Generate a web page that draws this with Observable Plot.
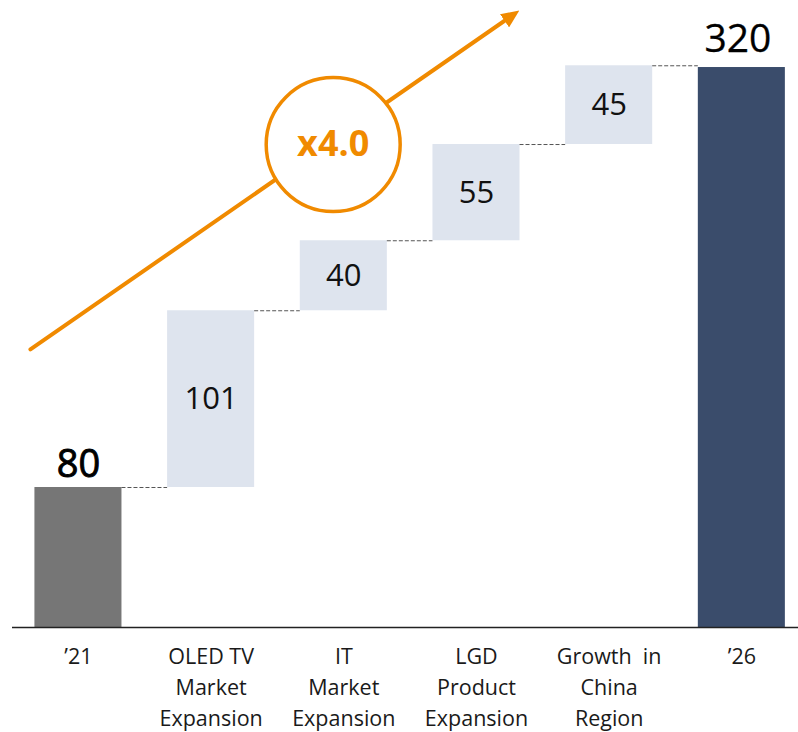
<!DOCTYPE html>
<html>
<head>
<meta charset="utf-8">
<script src="https://cdn.jsdelivr.net/npm/d3@7"></script>
<script src="https://cdn.jsdelivr.net/npm/@observablehq/plot@0.6"></script>
<style>
  html, body { margin: 0; padding: 0; background: #fff; }
  #chart { width: 798px; height: 732px; }
</style>
</head>
<body>
<div id="chart"></div>
<script>
// ---- data ----
const categories = ["\u201921", "OLED TV\nMarket\nExpansion", "IT\nMarket\nExpansion", "LGD\nProduct\nExpansion", "Growth\u00A0\u00A0in\nChina\nRegion", "\u201926"];
const values = [80, 101, 40, 55, 45, 320];
const kinds = ["start", "step", "step", "step", "step", "end"];
// annotation (growth arrow + multiple), in data coordinates (x = category index, y = value)
const arrowPath = [{x: -0.362, y: 158.9}, {x: 3.261, y: 349.3}];
const multipleBadge = [{x: 1.92, y: 276, label: "x4.0"}];

// ---- build waterfall table ----
let cum = 0;
const rows = categories.map((c, i) => {
  const v = values[i];
  let lo, hi;
  if (kinds[i] === "step") { lo = cum; hi = cum + v; cum = hi; }
  else { lo = 0; hi = v; cum = v; }
  return {i, label: c, value: v, kind: kinds[i], lo, hi};
});
const hw = 0.328;
const connectors = rows.slice(0, -1).map((r, k) => ({x1: r.i + hw, x2: rows[k + 1].i - hw, y: r.hi}));
const colors = {start: "#767676", step: "#DEE4EE", end: "#3A4C6B"};
const orange = "#F08A00";

function arrowHead(color) {
  const m = d3.create("svg:marker")
    .attr("viewBox", "0 -8 18 16")
    .attr("markerWidth", 18)
    .attr("markerHeight", 16)
    .attr("markerUnits", "userSpaceOnUse")
    .attr("refX", 8)
    .attr("refY", 0)
    .attr("orient", "auto");
  m.append("path").attr("d", "M0,-8L18,0L0,8Z").attr("fill", color).attr("stroke", "none");
  return m.node();
}

const font = "'Open Sans', 'Noto Sans', sans-serif";

const chart = Plot.plot({
  width: 798,
  height: 732,
  marginLeft: 12,
  marginRight: 0,
  marginTop: 0,
  marginBottom: 105,
  style: {fontFamily: font, background: "#fff", overflow: "visible"},
  x: {type: "linear", domain: [-0.497, 5.427], axis: null},
  y: {domain: [0, 358.3], axis: null},
  marks: [
    Plot.rectY(rows, {x1: d => d.i - hw, x2: d => d.i + hw, y1: "lo", y2: "hi", fill: d => colors[d.kind]}),
    Plot.ruleY(connectors, {x1: "x1", x2: "x2", y: "y", stroke: "#555", strokeWidth: 1, strokeDasharray: "4,2"}),
    Plot.ruleY([0], {stroke: "#222", strokeWidth: 1.5}),
    // step labels
    Plot.text(rows.filter(d => d.kind === "step"), {x: "i", y: d => (d.lo + d.hi) / 2, text: d => String(d.value), fontSize: 31, fill: "#111", lineAnchor: "middle"}),
    // total labels
    Plot.text(rows.filter(d => d.kind === "start"), {x: "i", y: "hi", text: d => String(d.value), fontSize: 38, fill: "#000", stroke: "#000", strokeWidth: 0.9, lineAnchor: "bottom", dy: -11}),
    Plot.text(rows.filter(d => d.kind === "end"), {x: "i", y: "hi", text: d => String(d.value), fontSize: 39, fill: "#000", stroke: "#000", strokeWidth: 0.3, lineAnchor: "bottom", dy: -16, dx: -4}),
    // category labels
    Plot.text(rows, {x: "i", y: 0, text: "label", fontSize: 21.5, fill: "#1a1a1a", lineAnchor: "top", dy: 14, lineHeight: 1.45}),
    // growth arrow
    Plot.line(arrowPath, {x: "x", y: "y", stroke: orange, strokeWidth: 4, markerEnd: arrowHead}),
    Plot.dot(multipleBadge, {x: "x", y: "y", r: 67, fill: "#fff", stroke: orange, strokeWidth: 3.5}),
    Plot.text(multipleBadge, {x: "x", y: "y", text: "label", fill: orange, fontSize: 36, fontWeight: 700, lineAnchor: "middle"})
  ]
});
document.getElementById("chart").appendChild(chart);
</script>
</body>
</html>
